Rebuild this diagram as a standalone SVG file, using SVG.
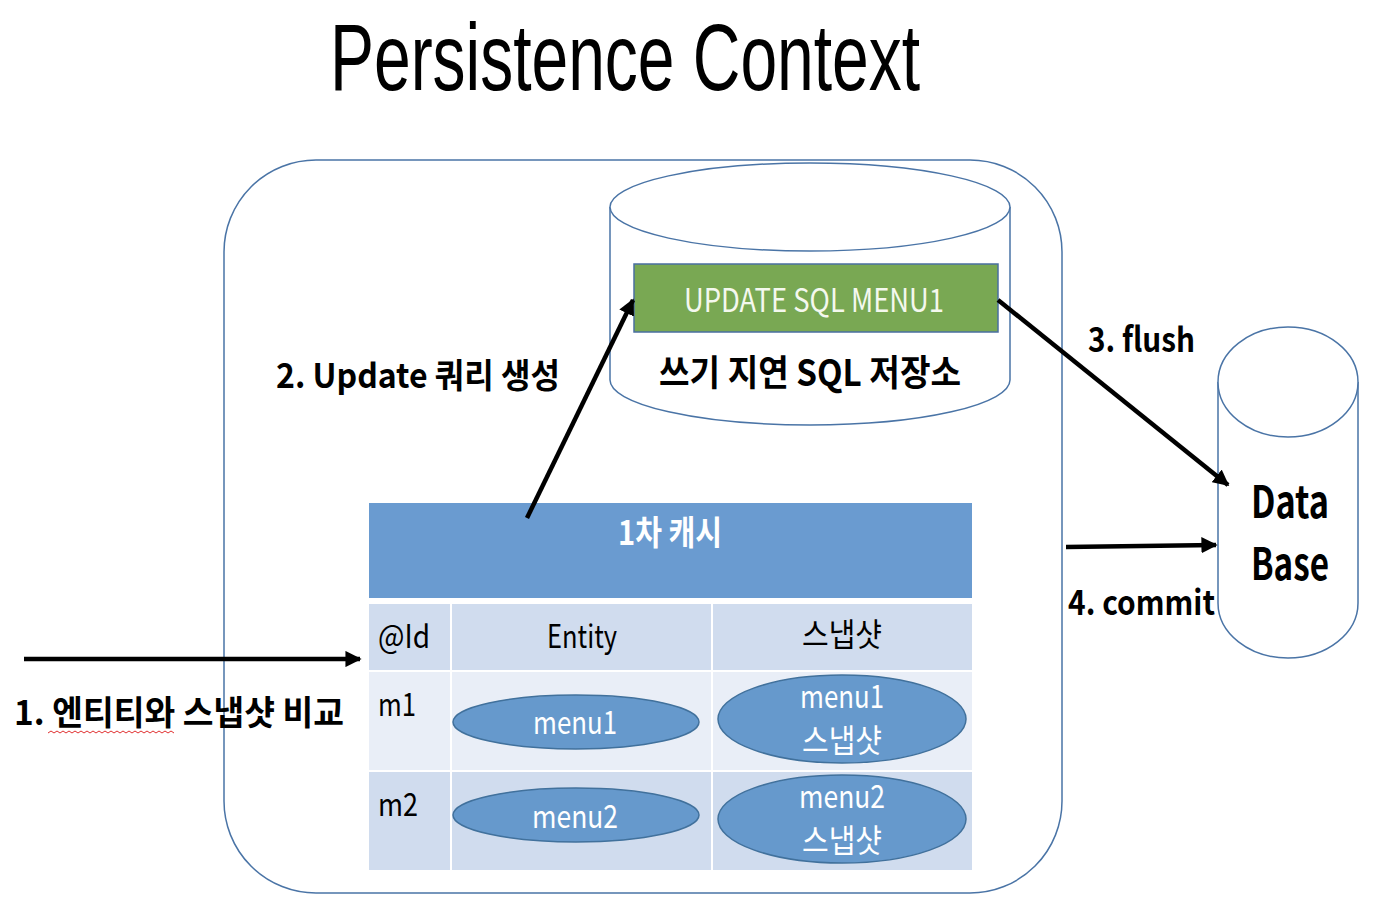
<svg xmlns="http://www.w3.org/2000/svg" width="1384" height="914" viewBox="0 0 1384 914">
<defs>
<marker id="ah" viewBox="0 0 10 10" refX="9" refY="5" markerWidth="3.6" markerHeight="3.6" orient="auto" markerUnits="strokeWidth">
<path d="M0,0 L10,5 L0,10 z" fill="#000"/>
</marker>
<style>
text{font-family:"Noto Sans CJK KR","Noto Sans",sans-serif;}
.b{font-weight:bold;fill:#000;}
.w{fill:#fff;}
.line{stroke:#4a74a6;stroke-width:1.5;fill:#fff;}
.arr{stroke:#000;stroke-width:4.5;fill:none;marker-end:url(#ah);}
.ell{fill:#6699cc;stroke:#41719c;stroke-width:1.5;}
</style>
</defs>
<rect width="1384" height="914" fill="#fff"/>
<g id="title"><text x="330" y="90" font-size="95" textLength="590" lengthAdjust="spacingAndGlyphs" fill="#000" style="font-family:'Liberation Sans','Noto Sans',sans-serif">Persistence Context</text></g>
<g id="context"><rect x="224" y="160" width="838" height="733" rx="92" ry="92" class="line" fill="none"/></g>
<g id="sqlstore">
<path d="M610,207 L610,380 A200,45 0 0 0 1010,380 L1010,207" class="line"/>
<ellipse cx="810" cy="207" rx="200" ry="44" class="line"/>
<rect x="634" y="264" width="364" height="68" fill="#79a853" stroke="#4a6fa0" stroke-width="1.5"/>
<text x="814" y="312" font-size="32" text-anchor="middle" textLength="260" lengthAdjust="spacingAndGlyphs" fill="#f4f8ee">UPDATE SQL MENU1</text>
<text x="810" y="386" font-size="36" class="b" text-anchor="middle" textLength="302" lengthAdjust="spacingAndGlyphs">쓰기 지연 SQL 저장소</text>
</g>
<g id="database">
<path d="M1218,382 L1218,603 A70,55 0 0 0 1358,603 L1358,382" class="line"/>
<ellipse cx="1288" cy="382" rx="70" ry="55" class="line"/>
<text x="1290" y="518" font-size="44" class="b" text-anchor="middle" textLength="78" lengthAdjust="spacingAndGlyphs">Data</text>
<text x="1290" y="580" font-size="44" class="b" text-anchor="middle" textLength="78" lengthAdjust="spacingAndGlyphs">Base</text>
</g>
<g id="cache">
<rect x="369" y="503" width="603" height="95" fill="#6a9bd0"/>
<text x="670" y="545" font-size="34" class="w" font-weight="bold" text-anchor="middle" textLength="104" lengthAdjust="spacingAndGlyphs">1차 캐시</text>
<rect x="369" y="604" width="81" height="66" fill="#d0dcee"/>
<rect x="452" y="604" width="259" height="66" fill="#d0dcee"/>
<rect x="713" y="604" width="259" height="66" fill="#d0dcee"/>
<rect x="369" y="672" width="81" height="98" fill="#e9eef7"/>
<rect x="452" y="672" width="259" height="98" fill="#e9eef7"/>
<rect x="713" y="672" width="259" height="98" fill="#e9eef7"/>
<rect x="369" y="772" width="81" height="98" fill="#d0dcee"/>
<rect x="452" y="772" width="259" height="98" fill="#d0dcee"/>
<rect x="713" y="772" width="259" height="98" fill="#d0dcee"/>
<text x="378" y="648" font-size="32" textLength="52" lengthAdjust="spacingAndGlyphs" fill="#000">@Id</text>
<text x="582" y="648" font-size="32" text-anchor="middle" textLength="70" lengthAdjust="spacingAndGlyphs" fill="#000">Entity</text>
<text x="842" y="646" font-size="32" text-anchor="middle" textLength="80" lengthAdjust="spacingAndGlyphs" fill="#000">스냅샷</text>
<text x="378" y="716" font-size="32" textLength="38" lengthAdjust="spacingAndGlyphs" fill="#000">m1</text>
<text x="378" y="816" font-size="32" textLength="40" lengthAdjust="spacingAndGlyphs" fill="#000">m2</text>
</g>
<g id="menu1">
<ellipse cx="576" cy="722" rx="123" ry="27" class="ell"/>
<text x="575" y="734" font-size="32" class="w" text-anchor="middle" textLength="84" lengthAdjust="spacingAndGlyphs">menu1</text>
</g>
<g id="menu2">
<ellipse cx="576" cy="815" rx="123" ry="27" class="ell"/>
<text x="575" y="828" font-size="32" class="w" text-anchor="middle" textLength="86" lengthAdjust="spacingAndGlyphs">menu2</text>
</g>
<g id="snap1">
<ellipse cx="842" cy="719" rx="124" ry="44" class="ell"/>
<text x="842" y="708" font-size="32" class="w" text-anchor="middle" textLength="84" lengthAdjust="spacingAndGlyphs">menu1</text>
<text x="842" y="752" font-size="32" class="w" text-anchor="middle" textLength="80" lengthAdjust="spacingAndGlyphs">스냅샷</text>
</g>
<g id="snap2">
<ellipse cx="842" cy="819" rx="124" ry="44" class="ell"/>
<text x="842" y="808" font-size="32" class="w" text-anchor="middle" textLength="86" lengthAdjust="spacingAndGlyphs">menu2</text>
<text x="842" y="852" font-size="32" class="w" text-anchor="middle" textLength="80" lengthAdjust="spacingAndGlyphs">스냅샷</text>
</g>
<g id="connectors">
<line x1="24" y1="659" x2="360" y2="659" class="arr"/>
<line x1="527" y1="518" x2="633" y2="300" class="arr"/>
<line x1="998" y1="300" x2="1228" y2="485" class="arr"/>
<line x1="1066" y1="547" x2="1216" y2="545" class="arr"/>
</g>
<g id="labels">
<text x="14" y="725" font-size="34" class="b" textLength="330" lengthAdjust="spacingAndGlyphs">1. 엔티티와 스냅샷 비교</text>
<path d="M48,733 l3,-2 l3,2 l3,-2 l3,2 l3,-2 l3,2 l3,-2 l3,2 l3,-2 l3,2 l3,-2 l3,2 l3,-2 l3,2 l3,-2 l3,2 l3,-2 l3,2 l3,-2 l3,2 l3,-2 l3,2 l3,-2 l3,2 l3,-2 l3,2 l3,-2 l3,2 l3,-2 l3,2 l3,-2 l3,2 l3,-2 l3,2 l3,-2 l3,2 l3,-2 l3,2 l3,-2 l3,2 l3,-2 l3,2" stroke="#e03030" stroke-width="1" fill="none"/>
<text x="276" y="388" font-size="34" class="b" textLength="284" lengthAdjust="spacingAndGlyphs">2. Update 쿼리 생성</text>
<text x="1088" y="352" font-size="34" class="b" textLength="107" lengthAdjust="spacingAndGlyphs">3. flush</text>
<text x="1068" y="615" font-size="34" class="b" textLength="147" lengthAdjust="spacingAndGlyphs">4. commit</text>
</g>
</svg>
